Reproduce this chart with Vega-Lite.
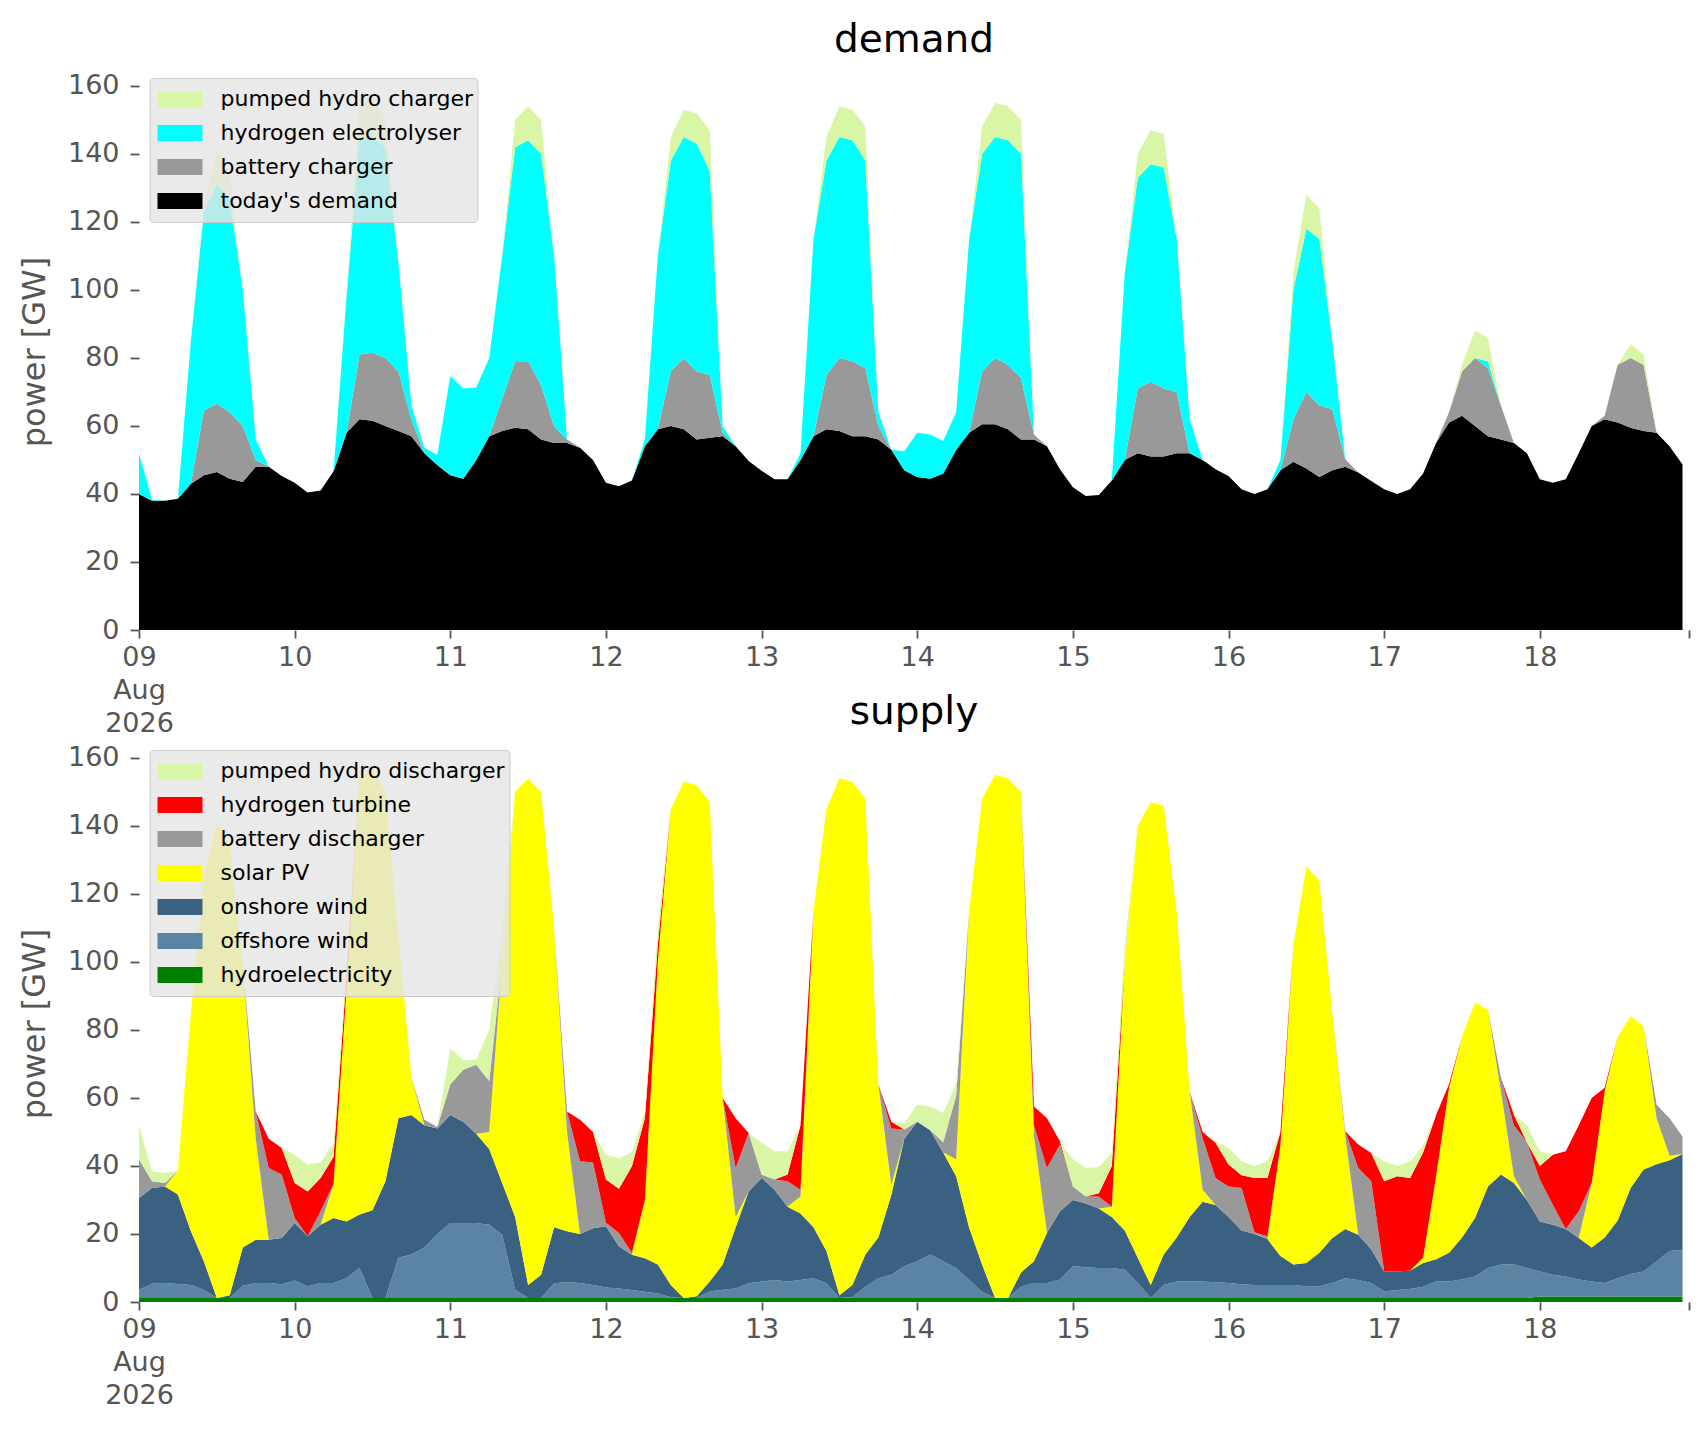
{
"$schema":"https://vega.github.io/schema/vega-lite/v6.json",
"background":"white",
"padding":{"left":18,"top":20,"right":18,"bottom":15},
"bounds":"flush",
"spacing":115,
"config":{
"font":"DejaVu Sans",
"view":{"stroke":null},
"axis":{"grid":false,"domain":false,"labelFont":"DejaVu Sans","labelFontSize":27,"labelColor":"#555555","tickColor":"#555555","titleFont":"DejaVu Sans","titleFontSize":32,"titleColor":"#555555","titleFontWeight":"normal"},
"title":{"font":"DejaVu Sans","fontSize":39,"fontWeight":"normal","color":"#000000","baseline":"alphabetic","offset":12,"anchor":"middle"},
"legend":{"title":null,"labelFont":"DejaVu Sans","labelFontSize":22,"labelColor":"#000000","labelLimit":0,"symbolType":"M-1,-0.36H1V0.36H-1Z","symbolSize":2025,"symbolStrokeWidth":0,"symbolOpacity":1,"symbolOffset":4,"clipHeight":34,"rowPadding":0,"labelOffset":18,"padding":4,"fillColor":"rgba(229,229,229,0.8)","strokeColor":"#cccccc","cornerRadius":4}
},
"datasets":{
"names":[{"k":"dem","name":"today's demand"},{"k":"bc","name":"battery charger"},{"k":"el","name":"hydrogen electrolyser"},{"k":"pc","name":"pumped hydro charger"},{"k":"hy","name":"hydroelectricity"},{"k":"off","name":"offshore wind"},{"k":"on","name":"onshore wind"},{"k":"pv","name":"solar PV"},{"k":"bd","name":"battery discharger"},{"k":"ht","name":"hydrogen turbine"},{"k":"pd","name":"pumped hydro discharger"}],
"energy":[
{"t":"2026-08-09T00:00","hy":1.2,"off":2.4,"on":27,"pv":0,"bd":11.4,"ht":0,"pd":10,"dem":40,"bc":0,"el":12,"pc":0},
{"t":"2026-08-09T02:00","hy":1.2,"off":4.2,"on":28.1,"pv":0,"bd":2,"ht":0,"pd":2.9,"dem":38,"bc":0,"el":0.4,"pc":0},
{"t":"2026-08-09T04:00","hy":1.2,"off":4.4,"on":28.4,"pv":0,"bd":1,"ht":0,"pd":3,"dem":38,"bc":0,"el":0,"pc":0},
{"t":"2026-08-09T06:00","hy":1.2,"off":4.1,"on":26.3,"pv":7,"bd":0,"ht":0,"pd":0,"dem":38.6,"bc":0,"el":0,"pc":0},
{"t":"2026-08-09T08:00","hy":1.2,"off":3.8,"on":15.8,"pv":64.2,"bd":0,"ht":0,"pd":0,"dem":43,"bc":0,"el":42,"pc":0},
{"t":"2026-08-09T10:00","hy":1.2,"off":2.4,"on":8.4,"pv":113,"bd":0,"ht":0,"pd":0,"dem":45.5,"bc":19,"el":58.5,"pc":2},
{"t":"2026-08-09T12:00","hy":1.2,"off":0,"on":0,"pv":139.8,"bd":0,"ht":0,"pd":0,"dem":46.5,"bc":20,"el":64.5,"pc":10},
{"t":"2026-08-09T14:00","hy":1.2,"off":0,"on":0.8,"pv":132,"bd":0,"ht":0,"pd":0,"dem":44.5,"bc":19.5,"el":63,"pc":7},
{"t":"2026-08-09T16:00","hy":1.2,"off":3.6,"on":11.2,"pv":84,"bd":0,"ht":0,"pd":0,"dem":43.5,"bc":16.5,"el":40,"pc":0},
{"t":"2026-08-09T18:00","hy":1.2,"off":4.4,"on":12.7,"pv":29.7,"bd":8,"ht":0,"pd":0,"dem":48,"bc":2,"el":6,"pc":0},
{"t":"2026-08-09T20:00","hy":1.2,"off":4.4,"on":12.7,"pv":0,"bd":21.1,"ht":8.6,"pd":0,"dem":48,"bc":0,"el":0,"pc":0},
{"t":"2026-08-09T22:00","hy":1.2,"off":4,"on":13.6,"pv":0,"bd":18.7,"ht":7.8,"pd":0,"dem":45.3,"bc":0,"el":0,"pc":0},
{"t":"2026-08-10T00:00","hy":1.2,"off":5.1,"on":16.9,"pv":0,"bd":1.5,"ht":10.3,"pd":8.3,"dem":43.3,"bc":0,"el":0,"pc":0},
{"t":"2026-08-10T02:00","hy":1.2,"off":3.4,"on":14.7,"pv":0,"bd":0,"ht":13.2,"pd":7.9,"dem":40.4,"bc":0,"el":0,"pc":0},
{"t":"2026-08-10T04:00","hy":1.2,"off":4.4,"on":17.1,"pv":0,"bd":4,"ht":9.8,"pd":4.5,"dem":41,"bc":0,"el":0,"pc":0},
{"t":"2026-08-10T06:00","hy":1.2,"off":4.4,"on":19.1,"pv":10,"bd":0,"ht":8,"pd":4,"dem":46.7,"bc":0,"el":0,"pc":0},
{"t":"2026-08-10T08:00","hy":1.2,"off":5.8,"on":16.7,"pv":68.3,"bd":0,"ht":4,"pd":2,"dem":58,"bc":0,"el":40,"pc":0},
{"t":"2026-08-10T10:00","hy":1.2,"off":8.8,"on":15.7,"pv":129.3,"bd":0,"ht":0,"pd":0,"dem":62,"bc":19,"el":64,"pc":10},
{"t":"2026-08-10T12:00","hy":1.2,"off":0,"on":25.8,"pv":130,"bd":0,"ht":0,"pd":0,"dem":61.5,"bc":20,"el":63.5,"pc":12},
{"t":"2026-08-10T14:00","hy":1.2,"off":0,"on":34.3,"pv":114.5,"bd":0,"ht":0,"pd":0,"dem":60,"bc":20,"el":62,"pc":8},
{"t":"2026-08-10T16:00","hy":1.2,"off":11.8,"on":41,"pv":54,"bd":0,"ht":0,"pd":0,"dem":58.5,"bc":17.5,"el":32,"pc":0},
{"t":"2026-08-10T18:00","hy":1.2,"off":12.8,"on":41,"pv":11,"bd":0,"ht":0,"pd":0,"dem":57,"bc":5,"el":4,"pc":0},
{"t":"2026-08-10T20:00","hy":1.2,"off":14.8,"on":36,"pv":0,"bd":1.6,"ht":0,"pd":0,"dem":52,"bc":0,"el":1.6,"pc":0},
{"t":"2026-08-10T22:00","hy":1.2,"off":18.8,"on":31,"pv":0,"bd":0.5,"ht":0,"pd":0,"dem":48.5,"bc":0,"el":3,"pc":0},
{"t":"2026-08-11T00:00","hy":1.2,"off":22,"on":31.8,"pv":0,"bd":9,"ht":0,"pd":10.7,"dem":45.5,"bc":0,"el":29.2,"pc":0},
{"t":"2026-08-11T02:00","hy":1.2,"off":22,"on":29.8,"pv":0,"bd":15.3,"ht":0,"pd":2.7,"dem":44.5,"bc":0,"el":26.5,"pc":0},
{"t":"2026-08-11T04:00","hy":1.2,"off":22,"on":26.3,"pv":0,"bd":20.3,"ht":0,"pd":1.5,"dem":50,"bc":0,"el":21.3,"pc":0},
{"t":"2026-08-11T06:00","hy":1.2,"off":21.5,"on":22.3,"pv":5,"bd":15,"ht":0,"pd":15,"dem":57,"bc":0,"el":23,"pc":0},
{"t":"2026-08-11T08:00","hy":1.2,"off":18.6,"on":15.2,"pv":65,"bd":0,"ht":0,"pd":10,"dem":58.5,"bc":9.5,"el":42,"pc":0},
{"t":"2026-08-11T10:00","hy":1.2,"off":2.4,"on":21.4,"pv":125,"bd":0,"ht":0,"pd":0,"dem":59.5,"bc":19.5,"el":63,"pc":8},
{"t":"2026-08-11T12:00","hy":1.2,"off":0,"on":3.8,"pv":149,"bd":0,"ht":0,"pd":0,"dem":59,"bc":20,"el":65,"pc":10},
{"t":"2026-08-11T14:00","hy":1.2,"off":0,"on":6.8,"pv":142,"bd":0,"ht":0,"pd":0,"dem":56,"bc":16,"el":68,"pc":10},
{"t":"2026-08-11T16:00","hy":1.2,"off":4.3,"on":16.5,"pv":88,"bd":0,"ht":0,"pd":0,"dem":55,"bc":5,"el":50,"pc":0},
{"t":"2026-08-11T18:00","hy":1.2,"off":4.6,"on":15,"pv":29.2,"bd":6,"ht":0,"pd":0,"dem":55,"bc":1,"el":0,"pc":0},
{"t":"2026-08-11T20:00","hy":1.2,"off":4.4,"on":14.4,"pv":0,"bd":21.4,"ht":12.2,"pd":0,"dem":53.6,"bc":0,"el":0,"pc":0},
{"t":"2026-08-11T22:00","hy":1.2,"off":3.8,"on":16.7,"pv":0,"bd":19.3,"ht":9,"pd":0,"dem":50,"bc":0,"el":0,"pc":0},
{"t":"2026-08-12T00:00","hy":1.2,"off":3.1,"on":18,"pv":0,"bd":1,"ht":12.7,"pd":7.3,"dem":43.3,"bc":0,"el":0,"pc":0},
{"t":"2026-08-12T02:00","hy":1.2,"off":2.8,"on":12.4,"pv":0,"bd":3.9,"ht":13,"pd":9,"dem":42.3,"bc":0,"el":0,"pc":0},
{"t":"2026-08-12T04:00","hy":1.2,"off":2.3,"on":10.4,"pv":0,"bd":0.6,"ht":25.4,"pd":4.1,"dem":44,"bc":0,"el":0,"pc":0},
{"t":"2026-08-12T06:00","hy":1.2,"off":1.8,"on":9.9,"pv":17.1,"bd":0,"ht":24,"pd":2,"dem":54,"bc":0,"el":2,"pc":0},
{"t":"2026-08-12T08:00","hy":1.2,"off":1.3,"on":8.5,"pv":89,"bd":0,"ht":5,"pd":5,"dem":59,"bc":0,"el":51,"pc":0},
{"t":"2026-08-12T10:00","hy":1.2,"off":0.2,"on":3.6,"pv":140,"bd":0,"ht":0,"pd":0,"dem":60,"bc":16,"el":62,"pc":7},
{"t":"2026-08-12T12:00","hy":1.2,"off":0,"on":0,"pv":151.8,"bd":0,"ht":0,"pd":0,"dem":59,"bc":21,"el":65,"pc":8},
{"t":"2026-08-12T14:00","hy":1.2,"off":0,"on":0.5,"pv":150.3,"bd":0,"ht":0,"pd":0,"dem":56,"bc":20,"el":67,"pc":9},
{"t":"2026-08-12T16:00","hy":1.2,"off":1.9,"on":2.9,"pv":141,"bd":0,"ht":0,"pd":0,"dem":56.5,"bc":18.5,"el":60,"pc":12},
{"t":"2026-08-12T18:00","hy":1.2,"off":2.4,"on":7.4,"pv":49,"bd":0,"ht":0,"pd":0,"dem":57,"bc":1,"el":2,"pc":0},
{"t":"2026-08-12T20:00","hy":1.2,"off":2.8,"on":18,"pv":3,"bd":14.4,"ht":14.6,"pd":0,"dem":54,"bc":0,"el":0,"pc":0},
{"t":"2026-08-12T22:00","hy":1.2,"off":4.3,"on":27,"pv":0,"bd":17.2,"ht":0,"pd":0,"dem":49.7,"bc":0,"el":0,"pc":0},
{"t":"2026-08-13T00:00","hy":1.2,"off":4.8,"on":30.5,"pv":0,"bd":1,"ht":0,"pd":9.3,"dem":46.8,"bc":0,"el":0,"pc":0},
{"t":"2026-08-13T02:00","hy":1.2,"off":5.3,"on":26.5,"pv":0,"bd":3,"ht":0,"pd":8.3,"dem":44.3,"bc":0,"el":0,"pc":0},
{"t":"2026-08-13T04:00","hy":1.2,"off":4.8,"on":22,"pv":0,"bd":7.5,"ht":2,"pd":6.8,"dem":44.3,"bc":0,"el":0,"pc":0},
{"t":"2026-08-13T06:00","hy":1.2,"off":5.3,"on":19.5,"pv":5,"bd":2,"ht":19,"pd":0,"dem":50,"bc":0,"el":2,"pc":0},
{"t":"2026-08-13T08:00","hy":1.2,"off":5.8,"on":15,"pv":93,"bd":0,"ht":0,"pd":0,"dem":57,"bc":0,"el":58,"pc":0},
{"t":"2026-08-13T10:00","hy":1.2,"off":4.3,"on":9.5,"pv":130,"bd":0,"ht":0,"pd":0,"dem":59,"bc":16,"el":63,"pc":7},
{"t":"2026-08-13T12:00","hy":1.2,"off":0,"on":0.8,"pv":152,"bd":0,"ht":0,"pd":0,"dem":58.5,"bc":21.5,"el":65,"pc":9},
{"t":"2026-08-13T14:00","hy":1.2,"off":0.3,"on":3.5,"pv":148,"bd":0,"ht":0,"pd":0,"dem":57,"bc":22,"el":65,"pc":9},
{"t":"2026-08-13T16:00","hy":1.2,"off":3.3,"on":9.5,"pv":134,"bd":0,"ht":0,"pd":0,"dem":57,"bc":20,"el":61,"pc":10},
{"t":"2026-08-13T18:00","hy":1.2,"off":5.8,"on":12,"pv":45,"bd":0,"ht":0,"pd":0,"dem":56,"bc":4,"el":4,"pc":0},
{"t":"2026-08-13T20:00","hy":1.2,"off":6.8,"on":23.5,"pv":3,"bd":16.5,"ht":2,"pd":0,"dem":53,"bc":0,"el":0,"pc":0},
{"t":"2026-08-13T22:00","hy":1.2,"off":9.3,"on":37.5,"pv":0,"bd":2.7,"ht":0,"pd":1.9,"dem":47,"bc":0,"el":5.6,"pc":0},
{"t":"2026-08-14T00:00","hy":1.2,"off":10.8,"on":41,"pv":0,"bd":0,"ht":0,"pd":5,"dem":45,"bc":0,"el":13,"pc":0},
{"t":"2026-08-14T02:00","hy":1.2,"off":12.8,"on":36.5,"pv":0,"bd":0,"ht":0,"pd":7,"dem":44.5,"bc":0,"el":13,"pc":0},
{"t":"2026-08-14T04:00","hy":1.2,"off":10.8,"on":32,"pv":0,"bd":3,"ht":0,"pd":8.6,"dem":46,"bc":0,"el":9.6,"pc":0},
{"t":"2026-08-14T06:00","hy":1.2,"off":8.8,"on":27,"pv":5,"bd":18.6,"ht":0,"pd":3.4,"dem":53,"bc":0,"el":11,"pc":0},
{"t":"2026-08-14T08:00","hy":1.2,"off":5.3,"on":15.3,"pv":93.2,"bd":0,"ht":0,"pd":0,"dem":58,"bc":0,"el":57,"pc":0},
{"t":"2026-08-14T10:00","hy":1.2,"off":1.8,"on":8,"pv":137,"bd":0,"ht":0,"pd":0,"dem":60.5,"bc":15.5,"el":64,"pc":8},
{"t":"2026-08-14T12:00","hy":1.2,"off":0,"on":0,"pv":153.8,"bd":0,"ht":0,"pd":0,"dem":60.5,"bc":19.5,"el":65,"pc":10},
{"t":"2026-08-14T14:00","hy":1.2,"off":0,"on":0,"pv":152.8,"bd":0,"ht":0,"pd":0,"dem":59,"bc":19,"el":66,"pc":10},
{"t":"2026-08-14T16:00","hy":1.2,"off":3.3,"on":4.2,"pv":141.3,"bd":0,"ht":0,"pd":0,"dem":56,"bc":18,"el":66,"pc":10},
{"t":"2026-08-14T18:00","hy":1.2,"off":4.4,"on":6.4,"pv":37,"bd":3,"ht":5.5,"pd":0,"dem":56,"bc":1.5,"el":0,"pc":0},
{"t":"2026-08-14T20:00","hy":1.2,"off":4.4,"on":14.7,"pv":0,"bd":19.1,"ht":14.6,"pd":0,"dem":54,"bc":0,"el":0,"pc":0},
{"t":"2026-08-14T22:00","hy":1.2,"off":5.4,"on":20.1,"pv":0,"bd":19.6,"ht":1,"pd":0,"dem":47.3,"bc":0,"el":0,"pc":0},
{"t":"2026-08-15T00:00","hy":1.2,"off":9.3,"on":19.5,"pv":0,"bd":4,"ht":0,"pd":8,"dem":42,"bc":0,"el":0,"pc":0},
{"t":"2026-08-15T02:00","hy":1.2,"off":9,"on":18.8,"pv":0,"bd":2,"ht":0,"pd":8.4,"dem":39.4,"bc":0,"el":0,"pc":0},
{"t":"2026-08-15T04:00","hy":1.2,"off":8.8,"on":17.5,"pv":0,"bd":3.5,"ht":1,"pd":7.7,"dem":39.7,"bc":0,"el":0,"pc":0},
{"t":"2026-08-15T06:00","hy":1.2,"off":8.8,"on":15,"pv":3,"bd":0,"ht":12,"pd":4,"dem":44,"bc":0,"el":0,"pc":0},
{"t":"2026-08-15T08:00","hy":1.2,"off":8.3,"on":11.5,"pv":79,"bd":0,"ht":0,"pd":5,"dem":50,"bc":0,"el":55,"pc":0},
{"t":"2026-08-15T10:00","hy":1.2,"off":4.4,"on":7.4,"pv":127,"bd":0,"ht":0,"pd":0,"dem":52,"bc":19,"el":62,"pc":7},
{"t":"2026-08-15T12:00","hy":1.2,"off":0,"on":3.8,"pv":142,"bd":0,"ht":0,"pd":0,"dem":51,"bc":22,"el":64,"pc":10},
{"t":"2026-08-15T14:00","hy":1.2,"off":3.8,"on":9,"pv":132,"bd":0,"ht":0,"pd":0,"dem":51,"bc":20,"el":65,"pc":10},
{"t":"2026-08-15T16:00","hy":1.2,"off":4.8,"on":13,"pv":96,"bd":0,"ht":0,"pd":0,"dem":52,"bc":18,"el":45,"pc":0},
{"t":"2026-08-15T18:00","hy":1.2,"off":4.8,"on":19,"pv":37,"bd":0,"ht":0,"pd":0,"dem":52,"bc":0,"el":10,"pc":0},
{"t":"2026-08-15T20:00","hy":1.2,"off":4.8,"on":23.5,"pv":3.5,"bd":15.2,"ht":1.8,"pd":0,"dem":50,"bc":0,"el":0,"pc":0},
{"t":"2026-08-15T22:00","hy":1.2,"off":4.6,"on":22.7,"pv":0,"bd":8,"ht":10.3,"pd":0.5,"dem":47.3,"bc":0,"el":0,"pc":0},
{"t":"2026-08-16T00:00","hy":1.2,"off":4.4,"on":19.4,"pv":0,"bd":9,"ht":6.4,"pd":4.9,"dem":45.3,"bc":0,"el":0,"pc":0},
{"t":"2026-08-16T02:00","hy":1.2,"off":4,"on":15.8,"pv":0,"bd":12.5,"ht":3.8,"pd":4.1,"dem":41.4,"bc":0,"el":0,"pc":0},
{"t":"2026-08-16T04:00","hy":1.2,"off":3.8,"on":15,"pv":0,"bd":0.5,"ht":16,"pd":3.5,"dem":40,"bc":0,"el":0,"pc":0},
{"t":"2026-08-16T06:00","hy":1.2,"off":3.8,"on":13.5,"pv":0,"bd":0.8,"ht":17.2,"pd":4.9,"dem":41.4,"bc":0,"el":0,"pc":0},
{"t":"2026-08-16T08:00","hy":1.2,"off":3.8,"on":8.5,"pv":32.5,"bd":0,"ht":4,"pd":0,"dem":47,"bc":0,"el":3,"pc":0},
{"t":"2026-08-16T10:00","hy":1.2,"off":3.8,"on":6,"pv":94,"bd":0,"ht":0,"pd":0,"dem":49.5,"bc":12.5,"el":38,"pc":5},
{"t":"2026-08-16T12:00","hy":1.2,"off":3.4,"on":6.9,"pv":116.5,"bd":0,"ht":0,"pd":0,"dem":47.5,"bc":22.5,"el":48,"pc":10},
{"t":"2026-08-16T14:00","hy":1.2,"off":3.4,"on":9.9,"pv":109.5,"bd":0,"ht":0,"pd":0,"dem":45,"bc":21,"el":49,"pc":9},
{"t":"2026-08-16T16:00","hy":1.2,"off":4.4,"on":13.2,"pv":66.2,"bd":0,"ht":0,"pd":0,"dem":47,"bc":18,"el":20,"pc":0},
{"t":"2026-08-16T18:00","hy":1.2,"off":5.8,"on":14.5,"pv":27.5,"bd":1.2,"ht":0,"pd":0,"dem":48,"bc":2.2,"el":0,"pc":0},
{"t":"2026-08-16T20:00","hy":1.2,"off":5.3,"on":13.3,"pv":0,"bd":19.6,"ht":6.9,"pd":0,"dem":46.3,"bc":0,"el":0,"pc":0},
{"t":"2026-08-16T22:00","hy":1.2,"off":4.4,"on":9.9,"pv":0,"bd":20,"ht":8.3,"pd":0,"dem":43.8,"bc":0,"el":0,"pc":0},
{"t":"2026-08-17T00:00","hy":1.2,"off":1.9,"on":5.9,"pv":0,"bd":0,"ht":26.5,"pd":5.9,"dem":41.4,"bc":0,"el":0,"pc":0},
{"t":"2026-08-17T02:00","hy":1.2,"off":2.3,"on":5.5,"pv":0,"bd":0,"ht":28,"pd":3,"dem":40,"bc":0,"el":0,"pc":0},
{"t":"2026-08-17T04:00","hy":1.2,"off":2.6,"on":5.5,"pv":0,"bd":0,"ht":27.2,"pd":4.9,"dem":41.4,"bc":0,"el":0,"pc":0},
{"t":"2026-08-17T06:00","hy":1.2,"off":3.3,"on":7,"pv":1.5,"bd":0,"ht":31,"pd":2,"dem":46,"bc":0,"el":0,"pc":0},
{"t":"2026-08-17T08:00","hy":1.2,"off":4.8,"on":6.6,"pv":24.4,"bd":0,"ht":18,"pd":0,"dem":55,"bc":0,"el":0,"pc":0},
{"t":"2026-08-17T10:00","hy":1.2,"off":4.8,"on":8.5,"pv":48.5,"bd":0,"ht":1,"pd":0,"dem":61,"bc":3,"el":0,"pc":0},
{"t":"2026-08-17T12:00","hy":1.2,"off":5.4,"on":12.4,"pv":59,"bd":0,"ht":0,"pd":0,"dem":63,"bc":13,"el":0,"pc":2},
{"t":"2026-08-17T14:00","hy":1.2,"off":6.3,"on":17.2,"pv":63.3,"bd":0,"ht":0,"pd":0,"dem":60,"bc":20,"el":0,"pc":8},
{"t":"2026-08-17T16:00","hy":1.2,"off":8.8,"on":24,"pv":52,"bd":0,"ht":0,"pd":0,"dem":57,"bc":20,"el":2,"pc":7},
{"t":"2026-08-17T18:00","hy":1.2,"off":9.8,"on":26.5,"pv":24.5,"bd":4,"ht":0,"pd":0,"dem":56,"bc":10,"el":0,"pc":0},
{"t":"2026-08-17T20:00","hy":1.2,"off":9.8,"on":24,"pv":2,"bd":15,"ht":3,"pd":0,"dem":55,"bc":0,"el":0,"pc":0},
{"t":"2026-08-17T22:00","hy":1.2,"off":8.8,"on":20,"pv":0,"bd":17,"ht":0,"pd":5,"dem":52,"bc":0,"el":0,"pc":0},
{"t":"2026-08-18T00:00","hy":1.6,"off":7.4,"on":14.7,"pv":0,"bd":12.3,"ht":4,"pd":4.3,"dem":44.3,"bc":0,"el":0,"pc":0},
{"t":"2026-08-18T02:00","hy":1.6,"off":6.4,"on":14.7,"pv":0,"bd":5.9,"ht":14.7,"pd":0,"dem":43.3,"bc":0,"el":0,"pc":0},
{"t":"2026-08-18T04:00","hy":1.6,"off":5.9,"on":14,"pv":0,"bd":0,"ht":22.8,"pd":0,"dem":44.3,"bc":0,"el":0,"pc":0},
{"t":"2026-08-18T06:00","hy":1.6,"off":5,"on":12.2,"pv":0,"bd":7.9,"ht":25.3,"pd":0,"dem":52,"bc":0,"el":0,"pc":0},
{"t":"2026-08-18T08:00","hy":1.6,"off":4.4,"on":10,"pv":19,"bd":0,"ht":25,"pd":0,"dem":60,"bc":0,"el":0,"pc":0},
{"t":"2026-08-18T10:00","hy":1.6,"off":4,"on":13.4,"pv":43,"bd":0,"ht":1,"pd":0,"dem":62,"bc":1,"el":0,"pc":0},
{"t":"2026-08-18T12:00","hy":1.6,"off":5.4,"on":17,"pv":54,"bd":0,"ht":0,"pd":0,"dem":61,"bc":17,"el":0,"pc":0},
{"t":"2026-08-18T14:00","hy":1.6,"off":6.6,"on":25.3,"pv":50.5,"bd":0,"ht":0,"pd":0,"dem":59.5,"bc":20.5,"el":0,"pc":4},
{"t":"2026-08-18T16:00","hy":1.6,"off":7.4,"on":30,"pv":42,"bd":0,"ht":0,"pd":0,"dem":58.5,"bc":19.5,"el":0,"pc":3},
{"t":"2026-08-18T18:00","hy":1.6,"off":10.4,"on":28.5,"pv":13.5,"bd":4,"ht":0,"pd":0,"dem":58,"bc":0,"el":0,"pc":0},
{"t":"2026-08-18T20:00","hy":1.6,"off":13.4,"on":26.7,"pv":1.3,"bd":11,"ht":0,"pd":0,"dem":54,"bc":0,"el":0,"pc":0},
{"t":"2026-08-18T22:00","hy":1.6,"off":13.7,"on":28.2,"pv":0,"bd":5.2,"ht":0,"pd":0,"dem":48.7,"bc":0,"el":0,"pc":0}
]
},
"resolve":{"scale":{"color":"independent","x":"independent","y":"independent"},"legend":{"color":"independent"}},
"vconcat":[
{
"title":"demand",
"width":1550,"height":557,
"data":{"name":"energy"},
"transform":[
{"fold":["dem","bc","el","pc"],"as":["k","v"]},
{"lookup":"k","from":{"data":{"name":"names"},"key":"k","fields":["name"]}},
{"calculate":"indexof(['dem','bc','el','pc'], datum.k)","as":"stackorder"}
],
"mark":{"type":"area","interpolate":"linear"},
"encoding":{
"x":{"field":"t","type":"temporal","title":null,
"scale":{"domain":[{"year":2026,"month":"Aug","date":9,"hours":0},{"year":2026,"month":"Aug","date":18,"hours":23}],"nice":false},
"axis":{"values":[{"year":2026,"month":"Aug","date":9},{"year":2026,"month":"Aug","date":10},{"year":2026,"month":"Aug","date":11},{"year":2026,"month":"Aug","date":12},{"year":2026,"month":"Aug","date":13},{"year":2026,"month":"Aug","date":14},{"year":2026,"month":"Aug","date":15},{"year":2026,"month":"Aug","date":16},{"year":2026,"month":"Aug","date":17},{"year":2026,"month":"Aug","date":18},{"year":2026,"month":"Aug","date":18,"hours":23}],
"labelExpr":"date(datum.value) == 9 ? ['09', 'Aug', '2026'] : (hours(datum.value) == 23 ? '' : timeFormat(datum.value, '%d'))",
"tickSize":8,"tickWidth":1.8,"labelPadding":6,"labelLineHeight":33,"labelAngle":0,"labelOverlap":false,"labelFlush":false,"labelBound":false}},
"y":{"field":"v","type":"quantitative","stack":"zero","title":"power [GW]",
"scale":{"domain":[0,163.8],"nice":false},
"axis":{"values":[0,20,40,60,80,100,120,140,160],"tickSize":9,"tickWidth":1.8,"labelPadding":11,"titlePadding":16}},
"color":{"field":"name","type":"nominal",
"scale":{"domain":["pumped hydro charger","hydrogen electrolyser","battery charger","today's demand"],"range":["#d9f5a6","#00ffff","#999999","#000000"]},
"legend":{"orient":"none","legendX":10.5,"legendY":5}},
"order":{"field":"stackorder","type":"quantitative"}
}
},
{
"title":"supply",
"width":1550,"height":557,
"data":{"name":"energy"},
"transform":[
{"fold":["hy","off","on","pv","bd","ht","pd"],"as":["k","v"]},
{"lookup":"k","from":{"data":{"name":"names"},"key":"k","fields":["name"]}},
{"calculate":"indexof(['hy','off','on','pv','bd','ht','pd'], datum.k)","as":"stackorder"}
],
"mark":{"type":"area","interpolate":"linear"},
"encoding":{
"x":{"field":"t","type":"temporal","title":null,
"scale":{"domain":[{"year":2026,"month":"Aug","date":9,"hours":0},{"year":2026,"month":"Aug","date":18,"hours":23}],"nice":false},
"axis":{"values":[{"year":2026,"month":"Aug","date":9},{"year":2026,"month":"Aug","date":10},{"year":2026,"month":"Aug","date":11},{"year":2026,"month":"Aug","date":12},{"year":2026,"month":"Aug","date":13},{"year":2026,"month":"Aug","date":14},{"year":2026,"month":"Aug","date":15},{"year":2026,"month":"Aug","date":16},{"year":2026,"month":"Aug","date":17},{"year":2026,"month":"Aug","date":18},{"year":2026,"month":"Aug","date":18,"hours":23}],
"labelExpr":"date(datum.value) == 9 ? ['09', 'Aug', '2026'] : (hours(datum.value) == 23 ? '' : timeFormat(datum.value, '%d'))",
"tickSize":8,"tickWidth":1.8,"labelPadding":6,"labelLineHeight":33,"labelAngle":0,"labelOverlap":false,"labelFlush":false,"labelBound":false}},
"y":{"field":"v","type":"quantitative","stack":"zero","title":"power [GW]",
"scale":{"domain":[0,163.8],"nice":false},
"axis":{"values":[0,20,40,60,80,100,120,140,160],"tickSize":9,"tickWidth":1.8,"labelPadding":11,"titlePadding":16}},
"color":{"field":"name","type":"nominal",
"scale":{"domain":["pumped hydro discharger","hydrogen turbine","battery discharger","solar PV","onshore wind","offshore wind","hydroelectricity"],"range":["#d9f5a6","#ff0000","#999999","#ffff00","#3b6182","#5b83a4","#008000"]},
"legend":{"orient":"none","legendX":10.5,"legendY":5}},
"order":{"field":"stackorder","type":"quantitative"}
}
}
]
}
